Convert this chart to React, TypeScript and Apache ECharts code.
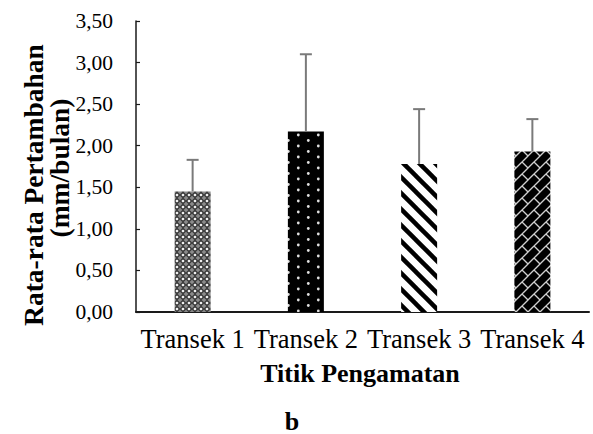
import React, { useEffect, useRef } from "react";
import * as echarts from "echarts";

const categories = ["Transek 1", "Transek 2", "Transek 3", "Transek 4"];
const means = [1.45, 2.17, 1.78, 1.93];
const errors = [0.38, 0.93, 0.66, 0.39];
const yTicks = [0, 0.5, 1, 1.5, 2, 2.5, 3, 3.5];

const FONT = "'Liberation Serif', 'Times New Roman', serif";

function makeTile(w: number, h: number, draw: (c: CanvasRenderingContext2D) => void) {
  const cv = document.createElement("canvas");
  cv.width = w;
  cv.height = h;
  const ctx = cv.getContext("2d")!;
  draw(ctx);
  return { image: cv, repeat: "repeat", imageWidth: w, imageHeight: h } as any;
}

function patterns() {
  const p1 = makeTile(6, 6, (c) => {
    c.fillStyle = "#e2e2e2";
    c.fillRect(0, 0, 6, 6);
    c.strokeStyle = "#3e3e3e";
    c.lineWidth = 1.7;
    c.beginPath();
    c.arc(3, 3, 2.2, 0, Math.PI * 2);
    c.stroke();
    c.fillStyle = "#ffffff";
    c.beginPath();
    c.arc(3, 3, 0.8, 0, Math.PI * 2);
    c.fill();
    c.fillStyle = "#6a6a6a";
    for (const [x, y] of [[0, 0], [6, 0], [0, 6], [6, 6]]) {
      c.beginPath();
      c.arc(x, y, 0.9, 0, Math.PI * 2);
      c.fill();
    }
  });
  const p2 = makeTile(20, 11, (c) => {
    c.fillStyle = "#000000";
    c.fillRect(0, 0, 20, 11);
    c.fillStyle = "#e0e0e0";
    c.beginPath();
    c.arc(18.3, 3, 1.4, 0, Math.PI * 2);
    c.fill();
    c.beginPath();
    c.arc(8.3, 8.5, 1.4, 0, Math.PI * 2);
    c.fill();
  });
  const p3 = makeTile(16, 16, (c) => {
    c.fillStyle = "#ffffff";
    c.fillRect(0, 0, 16, 16);
    c.strokeStyle = "#000000";
    c.lineWidth = 4.5;
    for (const k of [-16, 0, 16]) {
      c.beginPath();
      c.moveTo(k - 2, -2);
      c.lineTo(k + 18, 18);
      c.stroke();
    }
  });
  const p4 = makeTile(12, 12, (c) => {
    c.fillStyle = "#000000";
    c.fillRect(0, 0, 12, 12);
    c.strokeStyle = "#d0d0d0";
    c.lineWidth = 1.3;
    for (const k of [-12, 0, 12]) {
      c.beginPath();
      c.moveTo(k - 1, 13);
      c.lineTo(k + 13, -1);
      c.stroke();
    }
    c.beginPath();
    c.moveTo(6, 6);
    c.lineTo(12, 12);
    c.stroke();
    c.beginPath();
    c.moveTo(-6, 6);
    c.lineTo(0, 12);
    c.stroke();
    c.beginPath();
    c.moveTo(6, -6);
    c.lineTo(12, 0);
    c.stroke();
  });
  return [p1, p2, p3, p4];
}

export default function App() {
  const ref = useRef<HTMLDivElement>(null);
  useEffect(() => {
    if (!ref.current) return;
    const chart = echarts.init(ref.current, null, { renderer: "svg" });
    const pats = patterns();
    const option: any = {
      animation: false,
      backgroundColor: "#ffffff",
      grid: { left: 136, right: 4, top: 21, bottom: 122, containLabel: false },
      xAxis: {
        type: "category",
        data: categories,
        axisLine: { lineStyle: { color: "#1a1a1a", width: 2 } },
        axisTick: { show: false },
        axisLabel: {
          interval: 0,
          hideOverlap: false,
          fontFamily: FONT,
          fontSize: 26.5,
          color: "#000",
          margin: 13,
        },
      },
      yAxis: {
        type: "value",
        min: 0,
        max: 3.5,
        interval: 0.5,
        splitLine: { show: false },
        axisLine: { show: true, lineStyle: { color: "#1a1a1a", width: 1.5 } },
        axisTick: { show: true, inside: true, length: 4, lineStyle: { color: "#1a1a1a", width: 1.2 } },
        axisLabel: {
          fontFamily: FONT,
          fontSize: 21.5,
          color: "#000",
          margin: 23,
          formatter: (v: number) =>
            yTicks.includes(v) ? v.toFixed(2).replace(".", ",") : "",
        },
      },
      series: [
        {
          type: "bar",
          barWidth: 36,
          data: means.map((v, i) => ({ value: v, itemStyle: { color: pats[i] } })),
          z: 2,
        },
        {
          type: "custom",
          z: 3,
          data: means.map((v, i) => [i, v, v + errors[i]]),
          renderItem: (params: any, api: any) => {
            const x = api.value(0);
            const lo = api.coord([x, api.value(1)]);
            const hi = api.coord([x, api.value(2)]);
            const cap = 6;
            const st = { stroke: "#7a7a7a", lineWidth: 2 };
            return {
              type: "group",
              children: [
                { type: "line", shape: { x1: lo[0], y1: lo[1], x2: hi[0], y2: hi[1] }, style: st },
                { type: "line", shape: { x1: hi[0] - cap, y1: hi[1], x2: hi[0] + cap, y2: hi[1] }, style: st },
              ],
            };
          },
        },
      ],
      graphic: [
        {
          type: "text",
          x: 33,
          y: 185,
          rotation: Math.PI / 2,
          style: {
            text: "Rata-rata Pertambahan",
            font: `bold 27.5px ${FONT}`,
            fill: "#000",
            textAlign: "center",
            textVerticalAlign: "middle",
          },
        },
        {
          type: "text",
          x: 59,
          y: 168,
          rotation: Math.PI / 2,
          style: {
            text: "(mm/bulan)",
            font: `bold 27.5px ${FONT}`,
            fill: "#000",
            textAlign: "center",
            textVerticalAlign: "middle",
          },
        },
        {
          type: "text",
          x: 360,
          y: 373,
          style: {
            text: "Titik Pengamatan",
            font: `bold 26px ${FONT}`,
            fill: "#000",
            textAlign: "center",
            textVerticalAlign: "middle",
          },
        },
        {
          type: "text",
          x: 292,
          y: 421,
          style: {
            text: "b",
            font: `bold 26px ${FONT}`,
            fill: "#000",
            textAlign: "center",
            textVerticalAlign: "middle",
          },
        },
      ],
    };
    chart.setOption(option);
    return () => chart.dispose();
  }, []);
  return (
    <div
      ref={ref}
      style={{ position: "absolute", left: 0, top: 0, width: 593, height: 434 }}
    />
  );
}
